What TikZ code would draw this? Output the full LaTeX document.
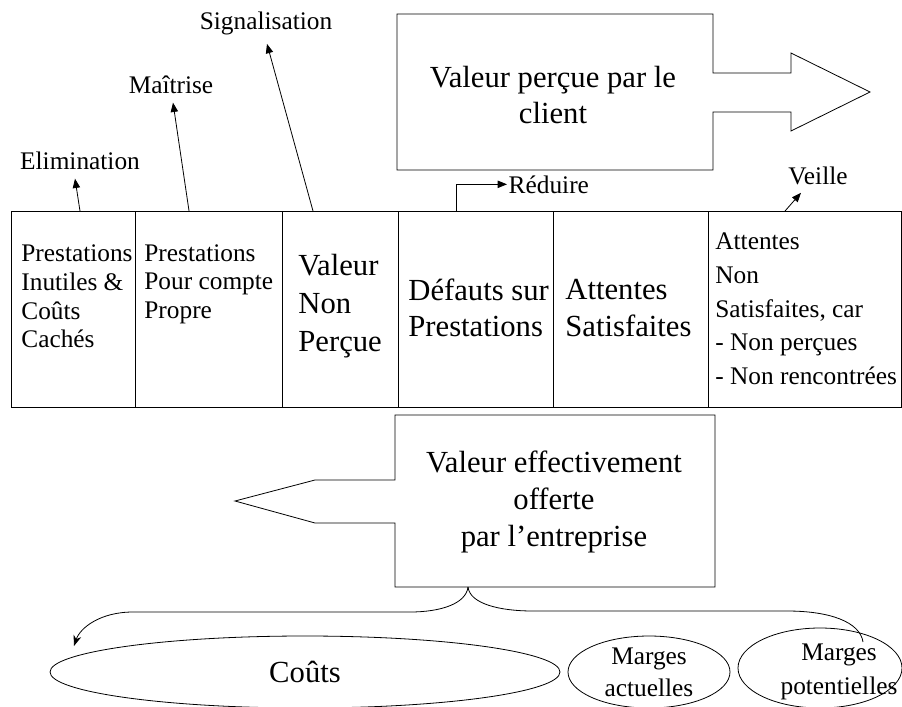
\documentclass[tikz,border=0pt]{standalone}
\usepackage{fontspec}
\setmainfont{Liberation Serif}
\usetikzlibrary{arrows.meta,shapes.geometric}
\tikzset{
  lbl/.style={font=\fontsize{19}{22}\selectfont, inner xsep=1pt, inner ysep=6pt},
  big/.style={font=\fontsize{23}{27.5}\selectfont, align=center},
  cell/.style={draw, inner sep=0pt, outer sep=0pt, minimum height=147pt},
  celltext/.style={anchor=west, inner sep=0pt, align=left},
  oval/.style={ellipse, draw, inner sep=0pt},
  arr/.style={-{Triangle[length=7pt,width=5.5pt]}},
}
\begin{document}
\begin{tikzpicture}[x=0.75pt,y=0.75pt,yscale=-1,xscale=1, line width=0.6pt]
\useasboundingbox (0,0) rectangle (902,706);

%Shape: Rectangle [cells of the row]
\draw (73,309) node [cell, minimum width=93pt] (c1) {};
\draw (208.5,309) node [cell, minimum width=110.25pt] (c2) {};
\draw (340,309) node [cell, minimum width=87pt] (c3) {};
\draw (475.5,309) node [cell, minimum width=116.25pt] (c4) {};
\draw (630.5,309) node [cell, minimum width=116.25pt] (c5) {};
\draw (804.5,309) node [cell, minimum width=144.75pt] (c6) {};

% Text Node
\draw (21,296.5) node [celltext, font=\fontsize{19}{21.5}\selectfont] (t1) {Prestations\\Inutiles \&\\Coûts\\Cachés};
% Text Node
\draw (144,284) node [celltext, font=\fontsize{19}{21.5}\selectfont] (t2) {Prestations\\Pour compte\\Propre};
% Text Node
\draw (298,306) node [celltext, font=\fontsize{23}{28.7}\selectfont] (t3) {Valeur\\Non\\Perçue};
% Text Node
\draw (408,308) node [celltext, font=\fontsize{23}{27.5}\selectfont] (t4) {Défauts sur\\Prestations};
% Text Node
\draw (565,308) node [celltext, font=\fontsize{23}{27.5}\selectfont] (t5) {Attentes\\Satisfaites};
% Text Node
\draw (715,309) node [celltext, font=\fontsize{19}{25.3}\selectfont] (t6) {Attentes\\Non\\Satisfaites, car\\- Non perçues\\- Non rencontrées};

% Text Node
\draw (80,170) node [lbl, anchor=base] (elim) {Elimination};
% Text Node
\draw (171,94) node [lbl, anchor=base] (mait) {Maîtrise};
% Text Node
\draw (266,30) node [lbl, anchor=base] (sig) {Signalisation};
% Text Node
\draw (507,193) node [lbl, anchor=base west] (red) {Réduire};
% Text Node
\draw (818,184) node [lbl, anchor=base] (veille) {Veille};

%Straight Lines
\draw [arr] ([xshift=5.25pt]c1.north) -- ([xshift=-3.75pt]elim.south);
\draw [arr] ([xshift=-14.6pt]c2.north) -- ([xshift=1.5pt]mait.south);
\draw [arr] ([xshift=-20.25pt]c3.north) -- ([xshift=0.75pt]sig.south);
\draw [arr] ([xshift=-14.6pt]c4.north) |- (red.west);
\draw [arr] ([xshift=-14.6pt]c6.north) -- ([xshift=-12.75pt]veille.south);

%Shape: Right Arrow
\draw (397,14) -- (713,14) -- (713,73) -- (791,73) -- (791,53) -- (870,92) -- (791,131) -- (791,112) -- (713,112) -- (713,170) -- (397,170) -- cycle ;
% Text Node
\draw (553,95) node [big] (percue) {Valeur perçue par le\\client};

%Shape: Left Arrow
\draw (395,415) -- (715,415) -- (715,587) -- (395,587) -- (395,523) -- (315,523) -- (235,501) -- (315,480) -- (395,480) -- cycle ;
% Text Node
\draw (554,502) node [big, font=\fontsize{23}{28}\selectfont] (offerte) {Valeur effectivement\\offerte\\par l’entreprise};

%Shape: Ellipse
\draw (305,672) node [oval, minimum width=382.5pt, minimum height=54pt, font=\fontsize{23}{28}\selectfont] (couts) {Coûts};
%Shape: Ellipse
\draw (649,672) node [oval, minimum width=121.5pt, minimum height=54pt, align=center, font=\fontsize{19}{24}\selectfont] (mact) {Marges\\actuelles};
%Shape: Ellipse
\draw (820,668) node [oval, minimum width=123pt, minimum height=60pt] (mpot) {};
% Text Node
\draw (839,672) node [inner sep=0pt, align=center, font=\fontsize{19}{26}\selectfont] (mpottxt) {Marges\\potentielles};

%Curve Lines [brace]
\coordinate (cusp) at (468,587);
\coordinate (coutstip) at (74,646);
\coordinate (mpottip) at (863,642);
\draw [-{Stealth[length=8pt,width=6pt]}] (cusp) .. controls (466,604) and (440,612) .. (410,612) -- (133,612) .. controls (100,612) and (80,628) .. (coutstip) ;
\draw (cusp) .. controls (470,604) and (500,611) .. (533,611) -- (787,611) .. controls (830,611) and (860,622) .. (mpottip) ;

\end{tikzpicture}
\end{document}
